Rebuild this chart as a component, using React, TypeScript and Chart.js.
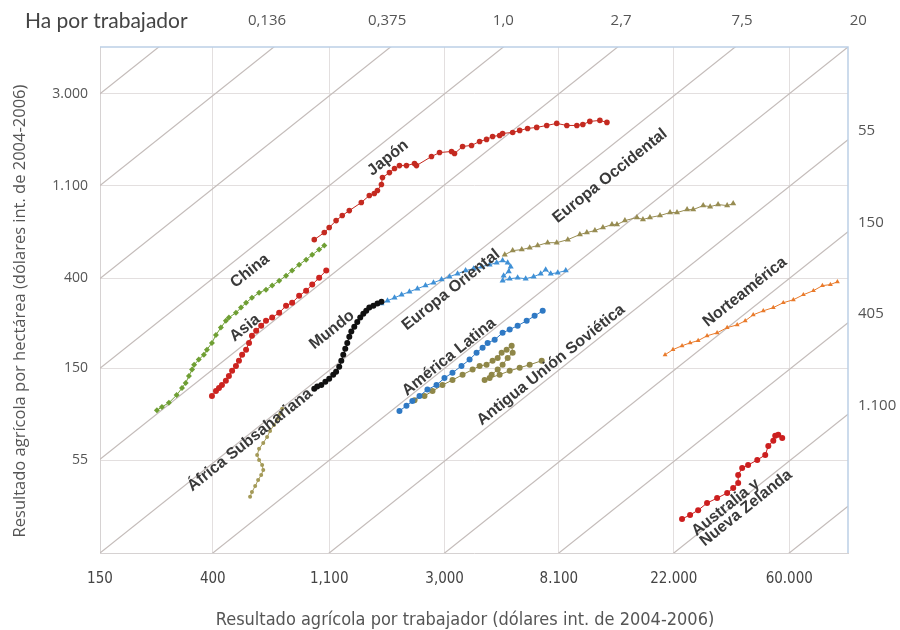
import React, { useEffect, useRef } from 'react';
import { Chart, registerables } from 'chart.js';

Chart.register(...registerables);

// ---- Axes / reference values ----
const xMin = 150;
const xMax = 100000;
const yMin = 20;
const yMax = 5000;
const xTickValues = [150, 400, 1100, 3000, 8100, 22000, 60000];
const xTickLabels = ['150', '400', '1,100', '3,000', '8.100', '22.000', '60.000'];
const yTickValues = [55, 150, 400, 1100, 3000];
const yTickLabels = ['55', '150', '400', '1.100', '3.000'];
// hectares per worker (diagonal iso-lines)
const haLineValues = [0.05, 0.136, 0.375, 1.0, 2.7, 7.5, 20, 55, 150, 405, 1100, 3000];
const haTopValues = [0.136, 0.375, 1.0, 2.7, 7.5, 20];
const haTopLabels = ['0,136', '0,375', '1,0', '2,7', '7,5', '20'];
const haRightValues = [55, 150, 405, 1100];
const haRightLabels = ['55', '150', '405', '1.100'];

// ---- Series (x = output per worker, y = output per hectare) ----
const chinaX = [246, 257, 273, 292, 306, 316, 325, 334, 340, 354, 370, 380, 397, 411, 429, 448, 460, 489, 511, 534, 562, 598, 635, 670, 712, 756, 797, 847, 900, 949, 1008, 1054];
const chinaY = [95, 98.5, 103, 112, 121, 128, 138, 148, 156, 165, 174, 184, 198, 216, 234, 252, 261, 275, 291, 307, 324, 342, 354, 370, 390, 412, 436, 465, 491, 518, 548, 573];

const asiaX = [397, 411, 422, 433, 448, 460, 473, 489, 502, 516, 534, 548, 562, 583, 609, 635, 670, 712, 756, 797, 847, 900, 949, 1008, 1072];
const asiaY = [111, 117, 121, 125, 131, 138, 146, 154, 163, 174, 184, 198, 214, 226, 239, 252, 261, 275, 297, 307, 331, 350, 374, 403, 436];

const japanX = [966, 1054, 1100, 1168, 1232, 1310, 1454, 1559, 1628, 1673, 1732, 1748, 1857, 1941, 2026, 2153, 2309, 2349, 2676, 2870, 3186, 3270, 3507, 3791, 4066, 4319, 4552, 4840, 4966, 5421, 5760, 6172, 6679, 7288, 7950, 8680, 9470, 9975, 10600, 11570, 12300];
const japanY = [611, 660, 697, 752, 795, 839, 916, 989, 1011, 1045, 1116, 1203, 1270, 1327, 1371, 1371, 1402, 1371, 1513, 1580, 1599, 1563, 1689, 1708, 1784, 1824, 1884, 1905, 1947, 1968, 2012, 2056, 2079, 2124, 2172, 2124, 2124, 2148, 2220, 2244, 2196];

const worldX = [966, 991, 1027, 1064, 1100, 1139, 1168, 1200, 1222, 1243, 1265, 1287, 1310, 1333, 1368, 1404, 1441, 1480, 1518, 1559, 1615, 1673, 1733];
const worldY = [120, 123, 125, 129.5, 134, 140, 144.5, 152.5, 163, 174, 186, 198, 212, 224, 236, 249, 261, 272, 281, 291, 297, 304, 310];

const africaX = [553, 562, 578, 593, 609, 620, 614, 598, 588, 598, 620, 641, 658, 681, 700, 718, 731];
const africaY = [36.9, 38.9, 41.5, 44.3, 46.8, 49.5, 52.2, 55.2, 58.3, 62.3, 66.5, 70.9, 75.8, 80.9, 86.4, 91.3, 96.4];

const eastEuX = [1733, 1826, 1941, 2064, 2210, 2369, 2541, 2724, 2921, 3131, 3357, 3600, 3860, 4140, 4436, 4716, 4966, 5190, 5327, 5238, 5011, 4966, 5282, 5660, 6069, 6504, 6916, 7222, 7545, 8021, 8600];
const eastEuY = [304, 314, 324, 335, 346, 358, 370, 382, 395, 408, 421, 436, 445, 455, 465, 475, 486, 475, 455, 431, 412, 390, 399, 403, 399, 408, 421, 440, 421, 426, 436];

const westEuX = [5060, 5421, 5866, 6285, 6736, 7345, 7950, 8755, 9720, 10330, 11080, 11880, 12850, 13420, 14380, 15960, 16820, 17880, 19510, 21290, 22620, 24690, 26030, 28400, 30160, 32320, 34980, 36860];
const westEuY = [518, 542, 548, 560, 573, 591, 591, 611, 646, 660, 675, 697, 720, 720, 752, 778, 761, 778, 795, 821, 821, 848, 848, 886, 876, 896, 886, 906];

const latamX = [2026, 2153, 2266, 2412, 2584, 2795, 2996, 3212, 3474, 3727, 3960, 4173, 4360, 4635, 4966, 5282, 5660, 6122, 6560, 7038];
const latamY = [94.3, 99.6, 105, 111, 119, 125, 135, 143, 154, 165, 178, 188, 198, 205, 221, 229, 239, 252, 266, 281];

const ussrX = [2309, 2518, 2700, 2944, 3212, 3507, 3826, 4066, 4319, 4552, 4758, 4925, 5144, 5373, 5421, 5190, 4966, 4758, 4516, 4247, 4436, 4840, 5282, 5760, 6285, 6977];
const ussrY = [106, 111, 117, 125, 132, 140, 148, 154, 156, 163, 168, 178, 184, 192, 178, 168, 156, 148, 140, 132, 135, 140, 146, 151, 156, 163];

const naX = [20390, 21840, 23630, 25340, 27180, 29370, 32050, 34980, 38160, 40920, 43870, 47880, 52230, 56980, 62180, 67850, 74040, 80070, 85800, 91200];
const naY = [174, 184, 192, 198, 203, 214, 221, 234, 241, 252, 269, 281, 291, 307, 317, 335, 350, 370, 374, 386];

const ausX = [23630, 25340, 27180, 29370, 32050, 34980, 36860, 38490, 38490, 39850, 41960, 45440, 48700, 50020, 52230, 53120, 54530, 56450];
const ausY = [29.0, 30.3, 31.9, 34.5, 36.4, 38.5, 40.6, 42.9, 46.8, 50.6, 52.2, 55.2, 58.3, 64.3, 68.0, 71.8, 72.6, 70.2];

// ---- Styling ----
const series = [
  { name: 'China', xs: chinaX, ys: chinaY, color: '#6f9f34', style: 'rectRot', r: 3 },
  { name: 'Asia', xs: asiaX, ys: asiaY, color: '#cc2420', style: 'circle', r: 3 },
  { name: 'Japón', xs: japanX, ys: japanY, color: '#c42a20', style: 'circle', r: 2.8 },
  { name: 'Mundo', xs: worldX, ys: worldY, color: '#111111', style: 'circle', r: 3 },
  { name: 'África Subsahariana', xs: africaX, ys: africaY, color: '#a49a58', style: 'circle', r: 2 },
  { name: 'Europa Oriental', xs: eastEuX, ys: eastEuY, color: '#3f90d6', style: 'triangle', r: 3.5 },
  { name: 'Europa Occidental', xs: westEuX, ys: westEuY, color: '#978c52', style: 'triangle', r: 3.5 },
  { name: 'América Latina', xs: latamX, ys: latamY, color: '#2f79c4', style: 'circle', r: 3 },
  { name: 'Antigua Unión Soviética', xs: ussrX, ys: ussrY, color: '#8f8748', style: 'circle', r: 3 },
  { name: 'Norteamérica', xs: naX, ys: naY, color: '#e97b2c', style: 'triangle', r: 2.8 },
  { name: 'Australia y Nueva Zelanda', xs: ausX, ys: ausY, color: '#cc1f1f', style: 'circle', r: 3 },
];

const seriesLabelLayout = [
  { lines: ['China'], cx: 250, cy: 271 },
  { lines: ['Asia'], cx: 245, cy: 328 },
  { lines: ['Mundo'], cx: 332, cy: 330 },
  { lines: ['África Subsahariana'], cx: 250, cy: 440 },
  { lines: ['Japón'], cx: 388, cy: 158 },
  { lines: ['Europa Oriental'], cx: 451, cy: 290 },
  { lines: ['Europa Occidental'], cx: 610, cy: 176 },
  { lines: ['América Latina'], cx: 449, cy: 357 },
  { lines: ['Antigua Unión Soviética'], cx: 551, cy: 365 },
  { lines: ['Norteamérica'], cx: 745, cy: 292 },
  { lines: ['Australia y', 'Nueva Zelanda'], cx: 742, cy: 503 },
];

const NARROW = '"Liberation Sans Narrow", "DejaVu Sans Condensed", "Roboto Condensed", sans-serif';
const SANS = '"Open Sans", "Noto Sans", sans-serif';
const LABEL_FONT = 'bold 16px "Liberation Sans", Arial, sans-serif';

const overlayPlugin = {
  id: 'overlay',
  afterDatasetsDraw(chart: any) {
    const ctx = chart.ctx;
    const xs = chart.scales.x;
    const ys = chart.scales.y;
    const dx = xs.getPixelForValue(1000 * Math.E) - xs.getPixelForValue(1000);
    const dy = ys.getPixelForValue(1000 * Math.E) - ys.getPixelForValue(1000);
    const angle = Math.atan2(dy, dx);
    ctx.save();
    ctx.font = LABEL_FONT;
    ctx.fillStyle = '#3a3a3a';
    ctx.textBaseline = 'middle';
    for (const lab of seriesLabelLayout) {
      ctx.save();
      ctx.translate(lab.cx, lab.cy);
      ctx.rotate(angle);
      if (lab.lines.length === 1) {
        ctx.textAlign = 'center';
        ctx.fillText(lab.lines[0], 0, 0);
      } else {
        ctx.textAlign = 'left';
        const w = Math.max(...lab.lines.map((l: string) => ctx.measureText(l).width));
        lab.lines.forEach((l: string, i: number) => {
          ctx.fillText(l, -w / 2, (i - (lab.lines.length - 1) / 2) * 13);
        });
      }
      ctx.restore();
    }
    ctx.restore();
  },
  afterDraw(chart: any) {
    const ctx = chart.ctx;
    const a = chart.chartArea;
    const xs = chart.scales.x;
    const ys = chart.scales.y;
    ctx.save();
    // top & right frame
    ctx.strokeStyle = '#bccfe6';
    ctx.lineWidth = 1.5;
    ctx.beginPath();
    ctx.moveTo(a.left, a.top);
    ctx.lineTo(a.right, a.top);
    ctx.lineTo(a.right, a.bottom);
    ctx.stroke();

    // Header
    ctx.fillStyle = '#444';
    ctx.textBaseline = 'middle';
    ctx.textAlign = 'left';
    ctx.font = '21px Lato, "Open Sans", sans-serif';
    ctx.fillText('Ha por trabajador', 25, 21);

    ctx.font = '15px ' + SANS;
    ctx.fillStyle = '#555';
    ctx.textAlign = 'center';
    const mid = xs.getPixelForValue(yMax * 1.0);
    haTopValues.forEach((ha, i) => {
      const px = xs.getPixelForValue(ha * yMax);
      ctx.fillText(haTopLabels[i], px + (px - mid) * 0.03, 21);
    });
    ctx.textAlign = 'left';
    ctx.font = '15px ' + SANS;
    haRightValues.forEach((ha, i) => {
      const py = ys.getPixelForValue(xMax / ha);
      ctx.fillText(haRightLabels[i], a.right + 10, py - 9);
    });

    // axis titles
    ctx.fillStyle = '#555';
    ctx.font = '16.5px ' + SANS;
    ctx.save();
    ctx.translate(20, 311);
    ctx.rotate(-Math.PI / 2);
    ctx.textAlign = 'center';
    ctx.fillText('Resultado agrícola por hectárea (dólares int. de 2004-2006)', 0, 0);
    ctx.restore();

    ctx.font = '18px ' + NARROW;
    ctx.textAlign = 'center';
    ctx.fillText('Resultado agrícola por trabajador (dólares int. de 2004-2006)', 465, 620);
    ctx.restore();
  },
};

export default function App() {
  const ref = useRef<HTMLCanvasElement>(null);
  useEffect(() => {
    const diagonals = haLineValues.map((ha) => ({
      label: 'ha ' + ha,
      data: [
        { x: xMin, y: xMin / ha },
        { x: xMax, y: xMax / ha },
      ],
      showLine: true,
      borderColor: '#c4bcba',
      borderWidth: 1.2,
      pointRadius: 0,
      order: 20,
    }));
    const dataSets = series.map((s) => ({
      label: s.name,
      data: s.xs.map((x, i) => ({ x, y: s.ys[i] })),
      showLine: true,
      borderColor: s.color,
      backgroundColor: s.color,
      borderWidth: 1,
      pointStyle: s.style,
      pointRadius: s.r,
      pointBorderWidth: 0,
      order: 1,
    }));
    const chart = new Chart(ref.current as HTMLCanvasElement, {
      type: 'scatter',
      data: { datasets: [...dataSets, ...diagonals] as any },
      options: {
        responsive: false,
        animation: false,
        devicePixelRatio: 1,
        layout: { padding: { top: 47, right: 52, left: 0, bottom: 0 } },
        plugins: { legend: { display: false }, tooltip: { enabled: false } },
        scales: {
          x: {
            type: 'logarithmic',
            position: 'bottom',
            min: xMin,
            max: xMax,
            afterBuildTicks: (s: any) => {
              s.ticks = xTickValues.map((v) => ({ value: v }));
            },
            afterFit: (s: any) => {
              s.height = 77;
            },
            grid: { color: '#e3dfdf', lineWidth: 1, drawTicks: false },
            border: { display: true, color: '#d6d2d2', width: 1 },
            ticks: {
              padding: 17,
              color: '#444',
              autoSkip: false,
              maxRotation: 0,
              font: { family: NARROW, size: 15 },
              callback: (_v: any, i: number) => xTickLabels[i],
            },
          },
          y: {
            type: 'logarithmic',
            position: 'left',
            min: yMin,
            max: yMax,
            afterBuildTicks: (s: any) => {
              s.ticks = yTickValues.map((v) => ({ value: v }));
            },
            afterFit: (s: any) => {
              s.width = 100;
            },
            grid: { color: '#e3dfdf', lineWidth: 1, drawTicks: false },
            border: { display: true, color: '#d6d2d2', width: 1 },
            ticks: {
              padding: 12,
              color: '#555',
              autoSkip: false,
              font: { family: SANS, size: 14 },
              callback: (_v: any, i: number) => yTickLabels[i],
            },
          },
        },
      } as any,
      plugins: [overlayPlugin],
    });
    return () => chart.destroy();
  }, []);
  return (
    <div style={{ position: 'absolute', left: 0, top: 0, width: 900, height: 630, background: '#fff' }}>
      <canvas ref={ref} width={900} height={630} style={{ display: 'block', width: 900, height: 630 }} />
    </div>
  );
}
